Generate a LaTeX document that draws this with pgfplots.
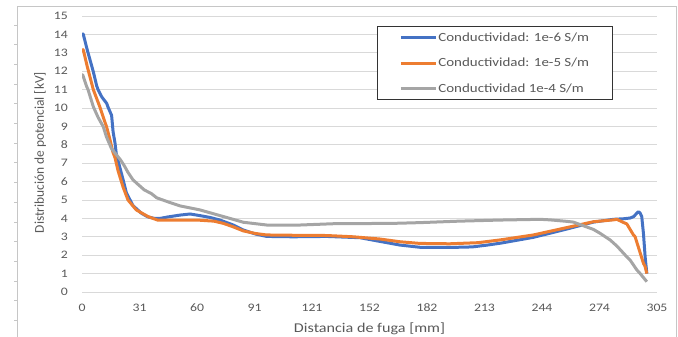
\documentclass[border=0pt]{standalone}
\usepackage{fontspec}
\setmainfont{Carlito}[FakeStretch=1.2]
\newfontfamily\plainfont{Carlito}
\usepackage{pgfplots}
\pgfplotsset{compat=1.18}
\definecolor{cblue}{HTML}{4472C4}
\definecolor{corange}{HTML}{ED7D31}
\definecolor{cgray}{HTML}{A5A5A5}
\definecolor{gridgray}{HTML}{D9D9D9}
\definecolor{tickgray}{HTML}{595959}
\begin{document}
\begin{tikzpicture}
\useasboundingbox (0,0) rectangle (678bp,337bp);
% outer chart frame
\begin{scope}[x=1bp,y=1bp]
\draw[gray!45, line width=0.8bp] (17,0) -- (17,331) -- (676,331) -- (676,0);
\foreach \k in {0,...,15} {
  \pgfmathsetmacro\yy{337-25-19.7*\k}
  \draw[gray!45, line width=0.8bp] (14,\yy) -- (17,\yy);
}
\end{scope}
\begin{axis}[
  at={(82bp,45bp)}, anchor=south west,
  scale only axis, width=575bp, height=276bp,
  xmin=0, xmax=305, ymin=0, ymax=15,
  xtick={0,30.5,61,91.5,122,152.5,183,213.5,244,274.5,305},
  xticklabels={0,31,60,91,121,152,182,213,244,274,305},
  ytick={0,1,...,15},
  ymajorgrids, major grid style={draw=gridgray, line width=0.8bp},
  axis line style={draw=none}, major tick length=0pt,
  /pgf/number format/assume math mode=true,
  tick label style={font=\fontsize{11.5}{13}\selectfont, text=tickgray},
  xticklabel style={anchor=base, inner sep=0pt, yshift=-19bp},
  yticklabel style={anchor=east, inner sep=0pt, xshift=-14bp},
  xlabel={Distancia de fuga [mm]},
  ylabel={\plainfont Distribución de potencial [kV]},
  xlabel style={at={(axis description cs:0.5,0)}, anchor=center, yshift=-37bp,
    font=\fontsize{13.5}{16}\selectfont, text=tickgray},
  ylabel style={at={(axis description cs:-0.073,0.505)}, anchor=center,
    font=\fontsize{13.5}{16}\selectfont, text=tickgray},
  legend style={at={(axis description cs:0.513,0.9638)}, anchor=north west,
    draw=black!80, line width=0.8bp, fill=white,
    font=\fontsize{12.5}{15}\selectfont, text=tickgray,
    inner xsep=22bp, inner ysep=5bp, row sep=13.5bp,
    nodes={inner sep=1bp}},
  legend cell align=left,
  legend image code/.code={\draw[#1] (0bp,0bp) -- (35bp,0bp);},
  every axis plot/.append style={line width=3bp, line join=round},
]
\addplot[cblue] coordinates {
(0,14.05) (0.7,14.0) (2.8,13.15) (6,11.97) (7.8,11.2) (8.5,11.0) (10.5,10.6)
(13.1,10.25) (13.8,10.05) (15.7,9.6) (16.5,8.7) (17.5,8.1) (18.2,7.5) (20,6.8)
(21.8,6.1) (23.5,5.4) (27,4.7) (31.5,4.28) (35,4.08) (38.5,4.0) (41.4,4.0)
(45.6,4.08) (52,4.18) (57.3,4.24) (62.6,4.15) (68,4.05) (73.2,3.91) (80,3.65)
(85.6,3.37) (92,3.15) (98,3.02) (112,3.0) (129.8,3.02) (147.5,2.95) (158,2.75)
(168.7,2.55) (179.3,2.43) (195,2.42) (207,2.45) (215,2.55) (221.8,2.65)
(239.4,2.97) (257.1,3.42) (271.3,3.8) (281.9,3.95) (287.2,3.98) (290.7,4.02)
(292.5,4.09) (294.3,4.28) (295.1,4.36) (296,4.3) (296.9,4.1) (297.8,3.19)
(298.7,1.92) (299.6,1.0)
};
\addlegendentry{Conductividad: 1e-6 S/m}
\addplot[corange] coordinates {
(0,13.2) (0.7,13.15) (2.8,12.25) (6,11.0) (9.5,10.05) (11.3,9.5) (13.1,8.95)
(14.8,8.3) (16.4,7.6) (17.5,7.3) (19.1,6.6) (21.8,5.7) (24.4,5.0) (28.8,4.46)
(35,4.1) (40.3,3.9) (45.6,3.9) (62.6,3.9) (70,3.85) (75,3.73) (80,3.55)
(85.6,3.32) (92,3.18) (98,3.1) (115,3.08) (129.8,3.07) (144,3.0) (158,2.88)
(168.7,2.73) (179.3,2.64) (195,2.62) (210,2.68) (221.8,2.83) (239.4,3.1)
(257.1,3.5) (271.3,3.82) (281.9,3.92) (283.7,3.95) (287.2,3.78) (289,3.7)
(292.5,3.1) (293.4,3.0) (296,2.15) (297.8,1.56) (298.7,1.38) (299.6,1.0)
};
\addlegendentry{Conductividad: 1e-5 S/m}
\addplot[cgray] coordinates {
(0,11.8) (0.4,11.8) (2.5,11.16) (3.2,11.0) (6,10.07) (8.5,9.5) (11.3,8.98)
(12.9,8.45) (15.6,7.8) (20.5,7.17) (22.5,6.85) (24.4,6.5) (27,6.1) (29.7,5.85)
(33,5.55) (36.8,5.35) (39.6,5.12) (45.6,4.9) (52,4.68) (62.6,4.46) (75,4.1)
(85.6,3.79) (98,3.64) (115.6,3.64) (133.3,3.71) (165,3.73) (179.3,3.77)
(200,3.85) (221.8,3.91) (243,3.95) (248.3,3.92) (257.1,3.84) (260.6,3.8)
(271.3,3.4) (274.8,3.19) (280.1,2.83) (283.7,2.5) (288.9,1.92) (290.7,1.74)
(294.3,1.2) (296,1.01) (299.6,0.56)
};
\addlegendentry{Conductividad 1e-4 S/m}
\end{axis}
\end{tikzpicture}
\end{document}
